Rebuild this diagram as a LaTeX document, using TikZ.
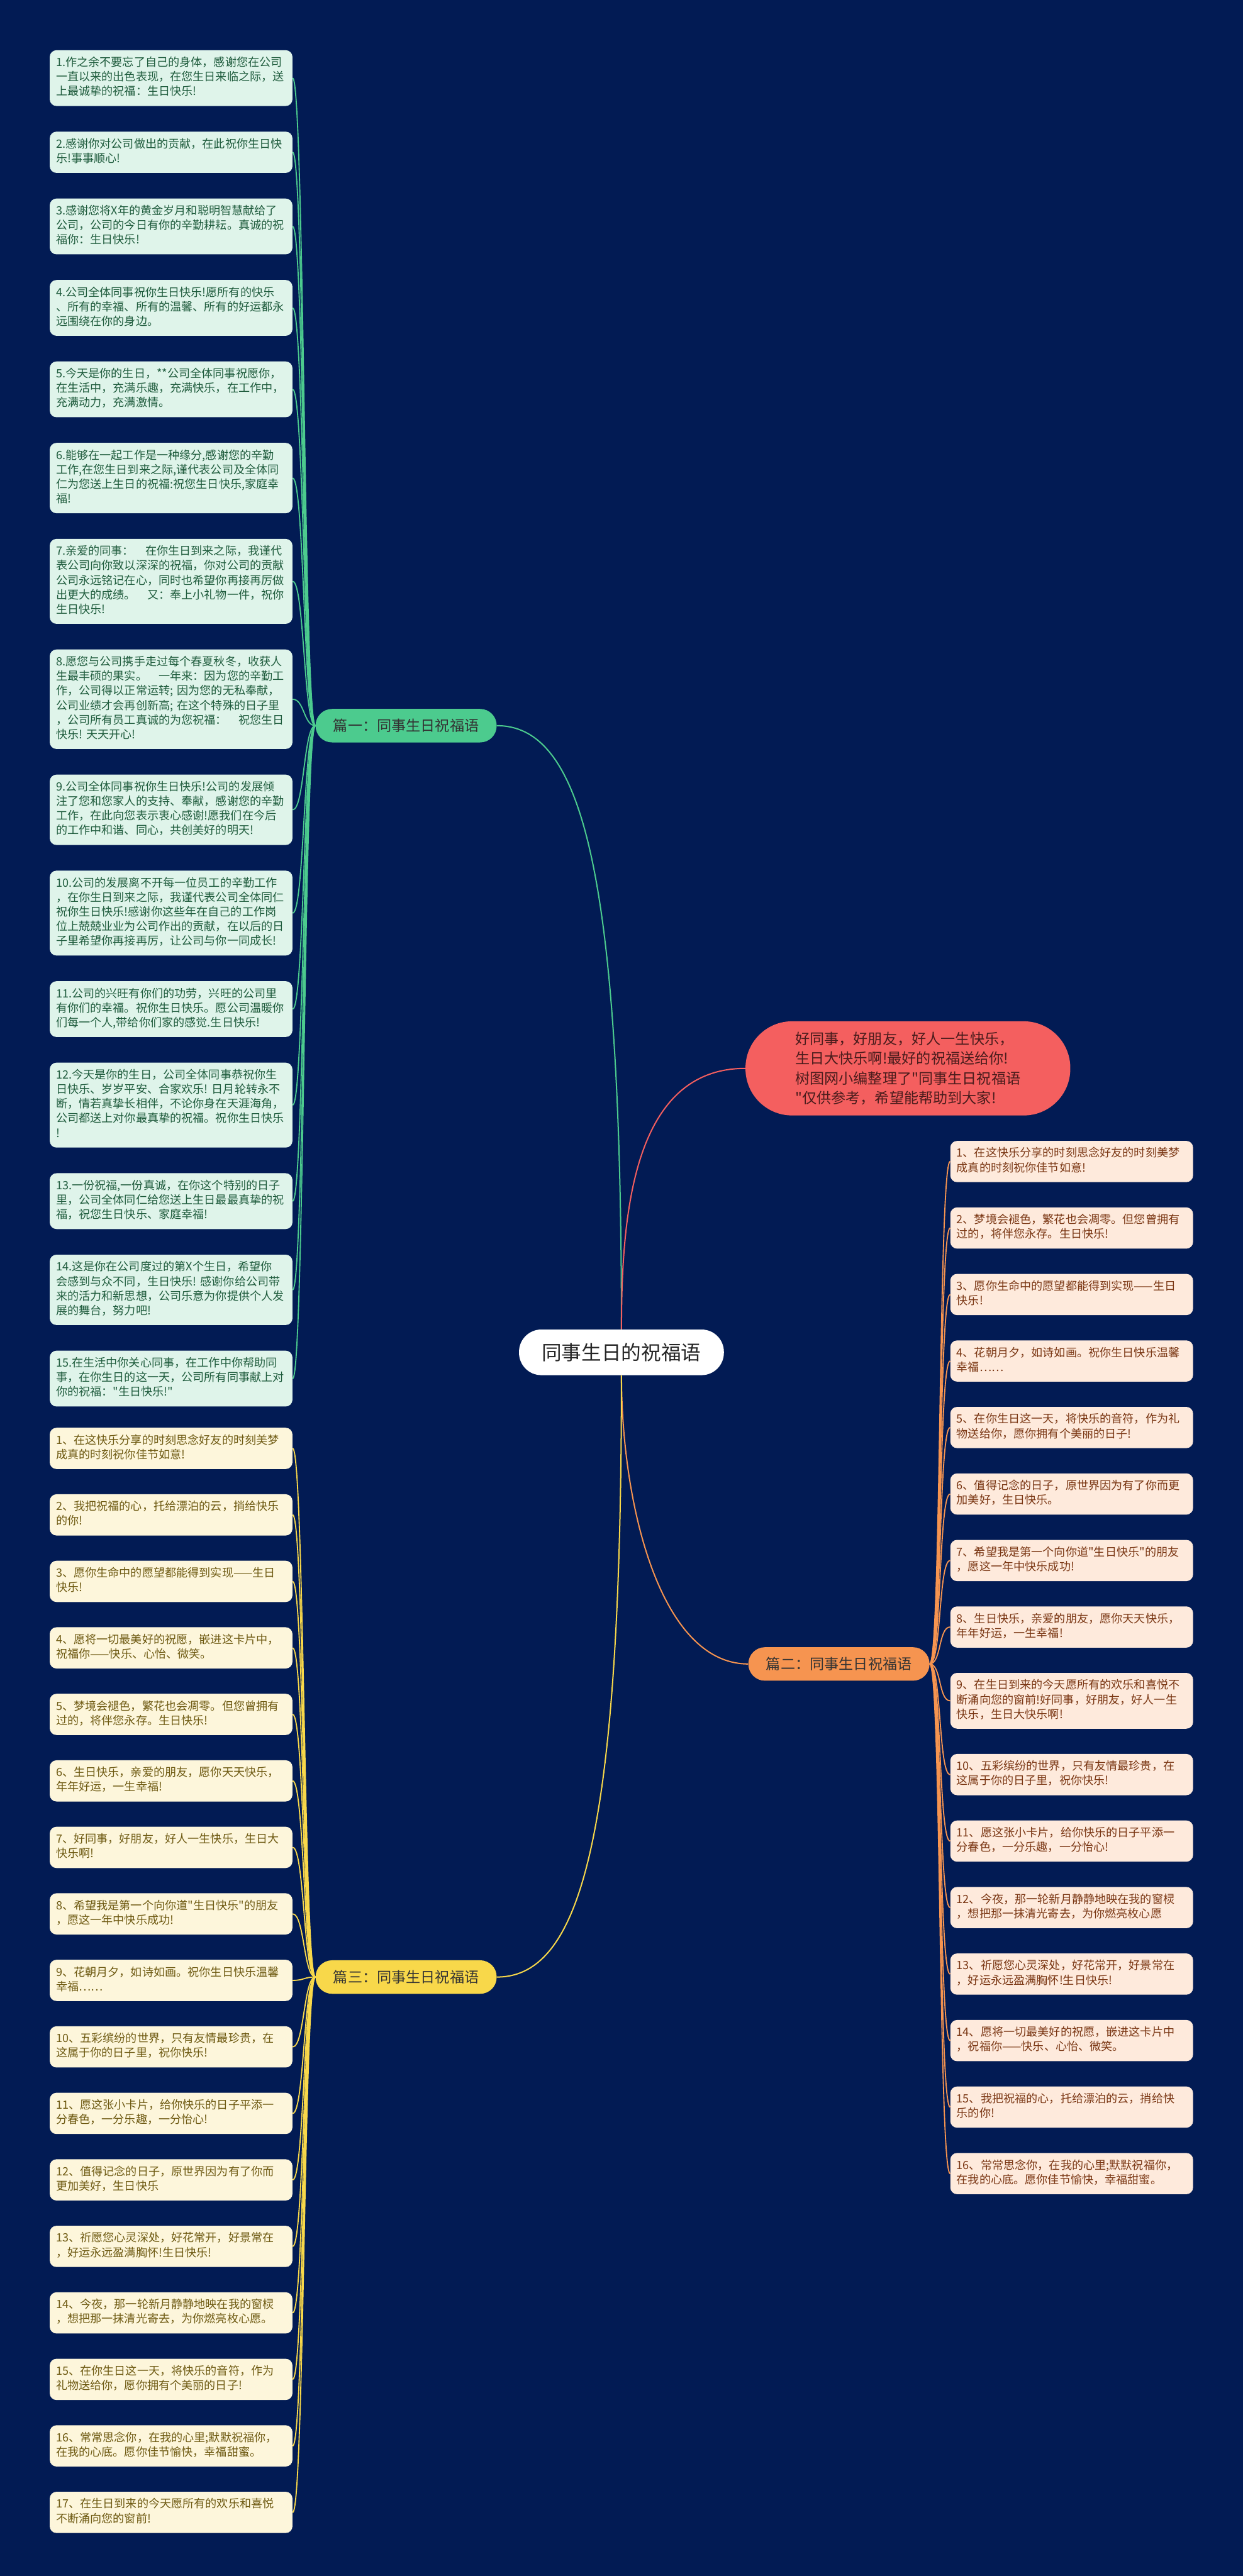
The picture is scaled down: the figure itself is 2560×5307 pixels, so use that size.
\documentclass[tikz,border=0pt]{standalone}
\usepackage{fontspec}
\newfontfamily\cjk{Noto Sans CJK SC}
\usetikzlibrary{positioning}

\definecolor{bgnavy}{HTML}{021B54}
\definecolor{gfill}{HTML}{DFF4EA}
\definecolor{gtext}{HTML}{1F5C3D}
\definecolor{gline}{HTML}{4CCB8E}
\definecolor{yfill}{HTML}{FDF6DB}
\definecolor{ytext}{HTML}{6E5A12}
\definecolor{yline}{HTML}{F8D84A}
\definecolor{ofill}{HTML}{FEEADC}
\definecolor{otext}{HTML}{7A3613}
\definecolor{oline}{HTML}{F69450}
\definecolor{rfill}{HTML}{F45F5F}
\definecolor{rtext}{HTML}{4A1C1C}

\begin{document}
\begin{tikzpicture}[x=0.5pt, y=-0.5pt, node distance=25.6pt,
    leaf/.style = {rounded corners=7pt, text width=237pt, inner xsep=6.5pt, inner ysep=6.25pt, align=left,
                   font=\cjk\fontsize{11.75}{15}\selectfont, execute at begin node=\strut, execute at end node=\strut},
    leafg/.style = {leaf, fill=gfill, text=gtext},
    leafy/.style = {leaf, fill=yfill, text=ytext},
    leafo/.style = {leaf, fill=ofill, text=otext},
    branch/.style = {rounded corners=17pt, minimum width=186.5pt, minimum height=34.5pt, inner sep=0pt,
                     font=\cjk\fontsize{15}{18}\selectfont, text=black!80},
    root/.style = {fill=white, rounded corners=23pt, minimum width=211pt, minimum height=47pt,
                   font=\cjk\fontsize{20.5}{24}\selectfont, text=black!85},
    intro/.style = {fill=rfill, rounded corners=48pt, minimum width=334.5pt, minimum height=97pt, align=left,
                    text=rtext, font=\cjk\fontsize{15}{20.4}\selectfont},
    trunk/.style = {line width=1.3pt},
    twig/.style = {line width=1.2pt, distance=12pt}]

    \fill[bgnavy] (0,0) rectangle (2560,5307);

    % centre and branches
    \node[root] (ctr) at (1280,2786) {同事生日的祝福语};
    \node[intro] (red) at (1870,2201) {好同事，好朋友，好人一生快乐，\\生日大快乐啊!最好的祝福送给你!\\树图网小编整理了"同事生日祝福语\\"仅供参考，希望能帮助到大家!};
    \node[branch, fill=gline] (b1) at (836.5,1495) {篇一：同事生日祝福语};
    \node[branch, fill=oline] (b2) at (1728,3428) {篇二：同事生日祝福语};
    \node[branch, fill=yline] (b3) at (836.5,4073) {篇三：同事生日祝福语};

    \draw[trunk, draw=gline] (ctr.north) .. controls (1280,1800) and (1200,1495) .. (b1.east);
    \draw[trunk, draw=rfill] (ctr.north) .. controls (1280,2504) and (1303,2201) .. (red.west);
    \draw[trunk, draw=oline] (ctr.south) .. controls (1280,3100) and (1360,3428) .. (b2.west);
    \draw[trunk, draw=yline] (ctr.south) .. controls (1280,3770) and (1200,4073) .. (b3.east);

    % 篇一
    \node[leafg, anchor=north west] (g1) at (102,103) {1.作之余不要忘了自己的身体，感谢您在公司\\一直以来的出色表现，在您生日来临之际，送\\上最诚挚的祝福：生日快乐!};
    \node[leafg, below=26pt of g1] (g2) {2.感谢你对公司做出的贡献，在此祝你生日快\\乐!事事顺心!};
    \node[leafg, below=26pt of g2] (g3) {3.感谢您将X年的黄金岁月和聪明智慧献给了\\公司，公司的今日有你的辛勤耕耘。真诚的祝\\福你：生日快乐!};
    \node[leafg, below=26pt of g3] (g4) {4.公司全体同事祝你生日快乐!愿所有的快乐\\、所有的幸福、所有的温馨、所有的好运都永\\远围绕在你的身边。};
    \node[leafg, below=26pt of g4] (g5) {5.今天是你的生日，**公司全体同事祝愿你，\\在生活中，充满乐趣，充满快乐，在工作中，\\充满动力，充满激情。};
    \node[leafg, below=26pt of g5] (g6) {6.能够在一起工作是一种缘分,感谢您的辛勤\\工作,在您生日到来之际,谨代表公司及全体同\\仁为您送上生日的祝福:祝您生日快乐,家庭幸\\福!};
    \node[leafg, below=26pt of g6] (g7) {7.亲爱的同事：　在你生日到来之际，我谨代\\表公司向你致以深深的祝福，你对公司的贡献\\公司永远铭记在心，同时也希望你再接再厉做\\出更大的成绩。　又：奉上小礼物一件，祝你\\生日快乐!};
    \node[leafg, below=26pt of g7] (g8) {8.愿您与公司携手走过每个春夏秋冬，收获人\\生最丰硕的果实。　一年来：因为您的辛勤工\\作，公司得以正常运转;~因为您的无私奉献，\\公司业绩才会再创新高;~在这个特殊的日子里\\，公司所有员工真诚的为您祝福：　祝您生日\\快乐!~天天开心!};
    \node[leafg, below=26pt of g8] (g9) {9.公司全体同事祝你生日快乐!公司的发展倾\\注了您和您家人的支持、奉献，感谢您的辛勤\\工作，在此向您表示衷心感谢!愿我们在今后\\的工作中和谐、同心，共创美好的明天!};
    \node[leafg, below=26pt of g9] (g10) {10.公司的发展离不开每一位员工的辛勤工作\\，在你生日到来之际，我谨代表公司全体同仁\\祝你生日快乐!感谢你这些年在自己的工作岗\\位上兢兢业业为公司作出的贡献，在以后的日\\子里希望你再接再厉，让公司与你一同成长!};
    \node[leafg, below=26pt of g10] (g11) {11.公司的兴旺有你们的功劳，兴旺的公司里\\有你们的幸福。祝你生日快乐。愿公司温暖你\\们每一个人,带给你们家的感觉.生日快乐!};
    \node[leafg, below=26pt of g11] (g12) {12.今天是你的生日，公司全体同事恭祝你生\\日快乐、岁岁平安、合家欢乐!~日月轮转永不\\断，情若真挚长相伴，不论你身在天涯海角，\\公司都送上对你最真挚的祝福。祝你生日快乐\\!};
    \node[leafg, below=26pt of g12] (g13) {13.一份祝福,一份真诚，在你这个特别的日子\\里，公司全体同仁给您送上生日最最真挚的祝\\福，祝您生日快乐、家庭幸福!};
    \node[leafg, below=26pt of g13] (g14) {14.这是你在公司度过的第X个生日，希望你\\会感到与众不同，生日快乐!~感谢你给公司带\\来的活力和新思想，公司乐意为你提供个人发\\展的舞台，努力吧!};
    \node[leafg, below=26pt of g14] (g15) {15.在生活中你关心同事，在工作中你帮助同\\事，在你生日的这一天，公司所有同事献上对\\你的祝福："生日快乐!"};

    % 篇二
    \node[leafo, anchor=north west] (o1) at (1957,2350) {1、在这快乐分享的时刻思念好友的时刻美梦\\成真的时刻祝你佳节如意!};
    \node[leafo, below=of o1] (o2) {2、梦境会褪色，繁花也会凋零。但您曾拥有\\过的，将伴您永存。生日快乐!};
    \node[leafo, below=of o2] (o3) {3、愿你生命中的愿望都能得到实现——生日\\快乐!};
    \node[leafo, below=of o3] (o4) {4、花朝月夕，如诗如画。祝你生日快乐温馨\\幸福……};
    \node[leafo, below=of o4] (o5) {5、在你生日这一天，将快乐的音符，作为礼\\物送给你，愿你拥有个美丽的日子!};
    \node[leafo, below=of o5] (o6) {6、值得记念的日子，原世界因为有了你而更\\加美好，生日快乐。};
    \node[leafo, below=of o6] (o7) {7、希望我是第一个向你道"生日快乐"的朋友\\，愿这一年中快乐成功!};
    \node[leafo, below=of o7] (o8) {8、生日快乐，亲爱的朋友，愿你天天快乐，\\年年好运，一生幸福!};
    \node[leafo, below=of o8] (o9) {9、在生日到来的今天愿所有的欢乐和喜悦不\\断涌向您的窗前!好同事，好朋友，好人一生\\快乐，生日大快乐啊!};
    \node[leafo, below=of o9] (o10) {10、五彩缤纷的世界，只有友情最珍贵，在\\这属于你的日子里，祝你快乐!};
    \node[leafo, below=of o10] (o11) {11、愿这张小卡片，给你快乐的日子平添一\\分春色，一分乐趣，一分怡心!};
    \node[leafo, below=of o11] (o12) {12、今夜，那一轮新月静静地映在我的窗棂\\，想把那一抹清光寄去，为你燃亮枚心愿};
    \node[leafo, below=of o12] (o13) {13、祈愿您心灵深处，好花常开，好景常在\\，好运永远盈满胸怀!生日快乐!};
    \node[leafo, below=of o13] (o14) {14、愿将一切最美好的祝愿，嵌进这卡片中\\，祝福你——快乐、心怡、微笑。};
    \node[leafo, below=of o14] (o15) {15、我把祝福的心，托给漂泊的云，捎给快\\乐的你!};
    \node[leafo, below=of o15] (o16) {16、常常思念你，在我的心里;默默祝福你，\\在我的心底。愿你佳节愉快，幸福甜蜜。};

    % 篇三
    \node[leafy, anchor=north west] (y1) at (102,2941) {1、在这快乐分享的时刻思念好友的时刻美梦\\成真的时刻祝你佳节如意!};
    \node[leafy, below=of y1] (y2) {2、我把祝福的心，托给漂泊的云，捎给快乐\\的你!};
    \node[leafy, below=of y2] (y3) {3、愿你生命中的愿望都能得到实现——生日\\快乐!};
    \node[leafy, below=of y3] (y4) {4、愿将一切最美好的祝愿，嵌进这卡片中，\\祝福你——快乐、心怡、微笑。};
    \node[leafy, below=of y4] (y5) {5、梦境会褪色，繁花也会凋零。但您曾拥有\\过的，将伴您永存。生日快乐!};
    \node[leafy, below=of y5] (y6) {6、生日快乐，亲爱的朋友，愿你天天快乐，\\年年好运，一生幸福!};
    \node[leafy, below=of y6] (y7) {7、好同事，好朋友，好人一生快乐，生日大\\快乐啊!};
    \node[leafy, below=of y7] (y8) {8、希望我是第一个向你道"生日快乐"的朋友\\，愿这一年中快乐成功!};
    \node[leafy, below=of y8] (y9) {9、花朝月夕，如诗如画。祝你生日快乐温馨\\幸福……};
    \node[leafy, below=of y9] (y10) {10、五彩缤纷的世界，只有友情最珍贵，在\\这属于你的日子里，祝你快乐!};
    \node[leafy, below=of y10] (y11) {11、愿这张小卡片，给你快乐的日子平添一\\分春色，一分乐趣，一分怡心!};
    \node[leafy, below=of y11] (y12) {12、值得记念的日子，原世界因为有了你而\\更加美好，生日快乐};
    \node[leafy, below=of y12] (y13) {13、祈愿您心灵深处，好花常开，好景常在\\，好运永远盈满胸怀!生日快乐!};
    \node[leafy, below=of y13] (y14) {14、今夜，那一轮新月静静地映在我的窗棂\\，想把那一抹清光寄去，为你燃亮枚心愿。};
    \node[leafy, below=of y14] (y15) {15、在你生日这一天，将快乐的音符，作为\\礼物送给你，愿你拥有个美丽的日子!};
    \node[leafy, below=of y15] (y16) {16、常常思念你，在我的心里;默默祝福你，\\在我的心底。愿你佳节愉快，幸福甜蜜。};
    \node[leafy, below=of y16] (y17) {17、在生日到来的今天愿所有的欢乐和喜悦\\不断涌向您的窗前!};

    % twigs
    \path[twig, draw=gline, out=180, in=0] (b1.west)
        edge (g1.east) edge (g2.east) edge (g3.east) edge (g4.east) edge (g5.east)
        edge (g6.east) edge (g7.east) edge (g8.east) edge (g9.east) edge (g10.east)
        edge (g11.east) edge (g12.east) edge (g13.east) edge (g14.east) edge (g15.east);
    \path[twig, draw=oline, out=0, in=180] (b2.east)
        edge (o1.west) edge (o2.west) edge (o3.west) edge (o4.west) edge (o5.west)
        edge (o6.west) edge (o7.west) edge (o8.west) edge (o9.west) edge (o10.west)
        edge (o11.west) edge (o12.west) edge (o13.west) edge (o14.west) edge (o15.west)
        edge (o16.west);
    \path[twig, draw=yline, out=180, in=0] (b3.west)
        edge (y1.east) edge (y2.east) edge (y3.east) edge (y4.east) edge (y5.east)
        edge (y6.east) edge (y7.east) edge (y8.east) edge (y9.east) edge (y10.east)
        edge (y11.east) edge (y12.east) edge (y13.east) edge (y14.east) edge (y15.east)
        edge (y16.east) edge (y17.east);
\end{tikzpicture}
\end{document}
